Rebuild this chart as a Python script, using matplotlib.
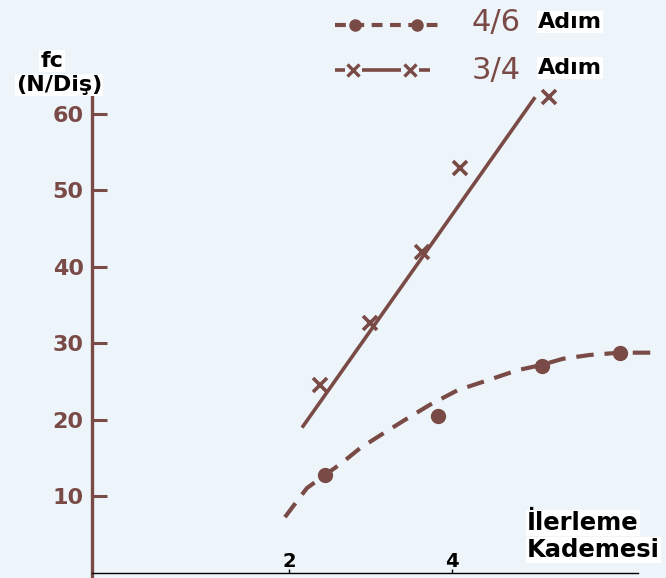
import matplotlib
matplotlib.use("Agg")
import matplotlib.pyplot as plt
from matplotlib.lines import Line2D

BROWN = "#7a4b46"
PAPER = "#eef5fa"

# 3/4 Adım: ölçüm noktaları ve elle çizilmiş doğru
x_34 = [2.38, 2.99, 3.63, 4.10, 5.19]
y_34 = [24.6, 32.7, 42.0, 52.9, 62.2]
fit_34_x = [2.16, 5.02]
fit_34_y = [19.0, 62.2]

# 4/6 Adım: ölçüm noktaları ve kesikli eğri
x_46 = [2.44, 3.83, 5.10, 6.06]
y_46 = [12.8, 20.5, 27.1, 28.8]
fit_46_x = [1.95, 2.22, 2.44, 2.65, 2.87, 3.12, 3.42, 3.73, 4.07, 4.44, 4.80,
            5.10, 5.36, 5.69, 6.06, 6.45]
fit_46_y = [7.3, 11.1, 12.8, 14.4, 16.3, 18.0, 20.0, 22.0, 23.9, 25.2, 26.5,
            27.2, 28.0, 28.5, 28.8, 28.8]

y_ticks = [10, 20, 30, 40, 50, 60]
x_ticks = [2, 4]

W, H = 666, 578
fig = plt.figure(figsize=(W / 100, H / 100), dpi=100, facecolor=PAPER)
ax = fig.add_axes([92 / W, 5 / H, 568 / W, 573 / H])
ax.set_facecolor("none")
ax.set_xlim(-0.417, 6.552)
ax.set_ylim(0, 74.9)


def px(x, y):
    # piksel konumunu figür oranına çevir (üstten ölçülen y)
    return x / W, 1 - y / H


# eğriler
ax.plot(fit_34_x, fit_34_y, color=BROWN, lw=2.6, solid_capstyle="butt")
ax.plot(x_34, y_34, ls="none", marker="x", ms=10, mew=2.6, color=BROWN, clip_on=False)
ax.plot(fit_46_x, fit_46_y, color=BROWN, lw=3.0, dashes=(4.2, 2.6))
ax.plot(x_46, y_46, ls="none", marker="o", ms=10, color=BROWN, clip_on=False)

# eksenler
for s in ["top", "right"]:
    ax.spines[s].set_visible(False)
ax.spines["left"].set_color(BROWN)
ax.spines["left"].set_linewidth(2.4)
ax.spines["left"].set_bounds(-0.7, 62.2)
ax.spines["bottom"].set_color("black")
ax.spines["bottom"].set_linewidth(1.0)
ax.spines["bottom"].set_bounds(-0.417, 6.28)

ax.set_yticks(y_ticks)
ax.set_yticklabels([str(v) for v in y_ticks])
ax.tick_params(axis="y", direction="in", length=11, width=2.2, color=BROWN,
               labelcolor=BROWN, labelsize=16, pad=6)
ax.set_xticks(x_ticks)
ax.set_xticklabels([str(v) for v in x_ticks])
ax.tick_params(axis="x", direction="in", length=3, width=1, color="black",
               labelcolor="black", labelsize=14, pad=-15)
for lab in ax.get_yticklabels() + ax.get_xticklabels():
    lab.set_fontweight("bold")

# eksen başlıkları
box = dict(facecolor="white", edgecolor="none", pad=1)
fig.text(*px(52, 61), "fc", ha="center", va="center", fontsize=16, fontweight="bold", bbox=box)
fig.text(*px(59, 85), "(N/Diş)", ha="center", va="center", fontsize=16, fontweight="bold", bbox=box)
fig.text(*px(527, 523), "İlerleme", ha="left", va="center", fontsize=17.5, fontweight="bold", bbox=box)
fig.text(*px(527, 550), "Kademesi", ha="left", va="center", fontsize=17.5, fontweight="bold", bbox=box)

# açıklama
fig.add_artist(Line2D([335 / W, 440 / W], [1 - 25 / H] * 2, color=BROWN, lw=3.0,
                      dashes=(2.6, 1.8), transform=fig.transFigure))
fig.add_artist(Line2D([355 / W, 417 / W], [1 - 25 / H] * 2, ls="none", marker="o", ms=8,
                      color=BROWN, transform=fig.transFigure))
for a, b in [(335, 345), (362, 401), (419, 430)]:
    fig.add_artist(Line2D([a / W, b / W], [1 - 70 / H] * 2, color=BROWN, lw=2.6,
                          solid_capstyle="butt", transform=fig.transFigure))
fig.add_artist(Line2D([353 / W, 410 / W], [1 - 70 / H] * 2, ls="none", marker="x", ms=9,
                      mew=2.4, color=BROWN, transform=fig.transFigure))

fig.text(*px(496, 23), "4/6", ha="center", va="center", fontsize=22, color=BROWN)
fig.text(*px(496, 70), "3/4", ha="center", va="center", fontsize=22, color=BROWN)
fig.text(*px(538, 22), "Adım", ha="left", va="center", fontsize=16, fontweight="bold", bbox=box)
fig.text(*px(538, 68), "Adım", ha="left", va="center", fontsize=16, fontweight="bold", bbox=box)

fig.savefig("out.png", dpi=100, facecolor=PAPER)
